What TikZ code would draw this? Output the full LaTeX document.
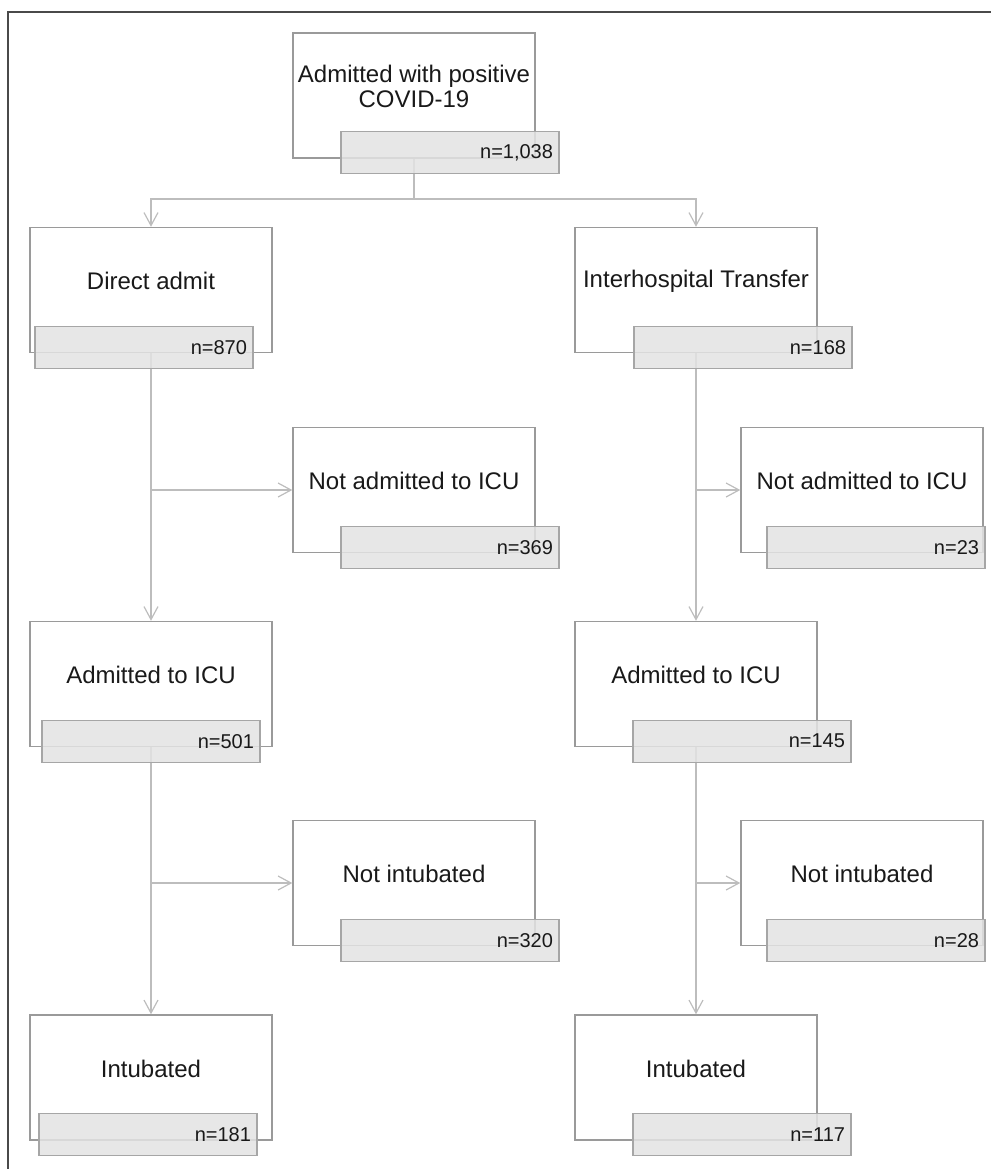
\documentclass[tikz,border=0pt]{standalone}
\usepackage{fontspec}
\setmainfont{Liberation Sans}
\usetikzlibrary{arrows.meta,positioning,calc}
\definecolor{BoxRule}{HTML}{9A9A9A}
\definecolor{CntBg}{HTML}{E3E3E3}
\definecolor{CntRule}{HTML}{A6A6A6}
\definecolor{Link}{HTML}{BDBDBD}
\definecolor{Frame}{HTML}{4A4A4A}

\begin{document}
\begin{tikzpicture}[x=0.5pt, y=-0.5pt,
  box/.style={draw=BoxRule, fill=white, line width=0.7pt,
              minimum width=121pt, minimum height=62.5pt, inner sep=0pt},
  lbl/.style={font=\fontsize{12}{12.5}\selectfont, align=center,
              yshift=4.5pt, text=black!90},
  cnt/.style={draw=CntRule, fill=CntBg, fill opacity=0.85, text opacity=1,
              line width=0.7pt, minimum width=109pt, minimum height=21pt,
              text width=103pt, align=right, inner xsep=3pt, inner ysep=0pt,
              font=\fontsize{10}{12}\selectfont, text=black!90},
  link/.style={line width=0.6pt, draw=Link},
  arr/.style={link, -{Straight Barb[length=6.5pt,width=7pt]}}]
  \useasboundingbox (0,0) rectangle (991,1169);
  \draw[Frame, line width=1pt] (991,12) -- (8,12) -- (8,1169);

  % boxes
  \node[box, label={[lbl]center:Admitted with positive\\COVID-19}] (covid) at (414,95.5) {};
  \node[box, label={[lbl]center:Direct admit}] (direct) at (151,290) {};
  \node[box, label={[lbl]center:Interhospital Transfer}] (transfer) at (696,290) {};
  \node[box, label={[lbl]center:Not admitted to ICU}] (noicuL) at (414,490) {};
  \node[box, label={[lbl]center:Not admitted to ICU}] (noicuR) at (862,490) {};
  \node[box, label={[lbl]center:Admitted to ICU}] (icuL) at (151,684) {};
  \node[box, label={[lbl]center:Admitted to ICU}] (icuR) at (696,684) {};
  \node[box, label={[lbl]center:Not intubated}] (nointL) at (414,883) {};
  \node[box, label={[lbl]center:Not intubated}] (nointR) at (862,883) {};
  \node[box, label={[lbl]center:Intubated}] (intL) at (151,1077.5) {};
  \node[box, label={[lbl]center:Intubated}] (intR) at (696,1077.5) {};

  % connectors
  \coordinate (split) at (414,199);
  \draw[link] (covid.south) -- (split);
  \draw[arr] (split) -| (direct.north);
  \draw[arr] (split) -| (transfer.north);
  \draw[arr] (direct.south) -- (icuL.north);
  \draw[arr] (direct.south |- noicuL.west) -- (noicuL.west);
  \draw[arr] (transfer.south) -- (icuR.north);
  \draw[arr] (transfer.south |- noicuR.west) -- (noicuR.west);
  \draw[arr] (icuL.south) -- (intL.north);
  \draw[arr] (icuL.south |- nointL.west) -- (nointL.west);
  \draw[arr] (icuR.south) -- (intR.north);
  \draw[arr] (icuR.south |- nointR.west) -- (nointR.west);

  % counts
  \node[cnt] (covid-n) at ([xshift=18pt,yshift=3pt]covid.south) {n=1,038};
  \node[cnt] (direct-n) at ([xshift=-3.5pt,yshift=3pt]direct.south) {n=870};
  \node[cnt] (transfer-n) at ([xshift=23.5pt,yshift=3pt]transfer.south) {n=168};
  \node[cnt] (noicuL-n) at ([xshift=18pt,yshift=3pt]noicuL.south) {n=369};
  \node[cnt] (noicuR-n) at ([xshift=7pt,yshift=3pt]noicuR.south) {n=23};
  \node[cnt] (icuL-n) at ([yshift=3pt]icuL.south) {n=501};
  \node[cnt] (icuR-n) at ([xshift=23pt,yshift=3pt]icuR.south) {n=145};
  \node[cnt] (nointL-n) at ([xshift=18pt,yshift=3pt]nointL.south) {n=320};
  \node[cnt] (nointR-n) at ([xshift=7pt,yshift=3pt]nointR.south) {n=28};
  \node[cnt] (intL-n) at ([xshift=-1.5pt,yshift=3pt]intL.south) {n=181};
  \node[cnt] (intR-n) at ([xshift=23pt,yshift=3pt]intR.south) {n=117};
\end{tikzpicture}
\end{document}
